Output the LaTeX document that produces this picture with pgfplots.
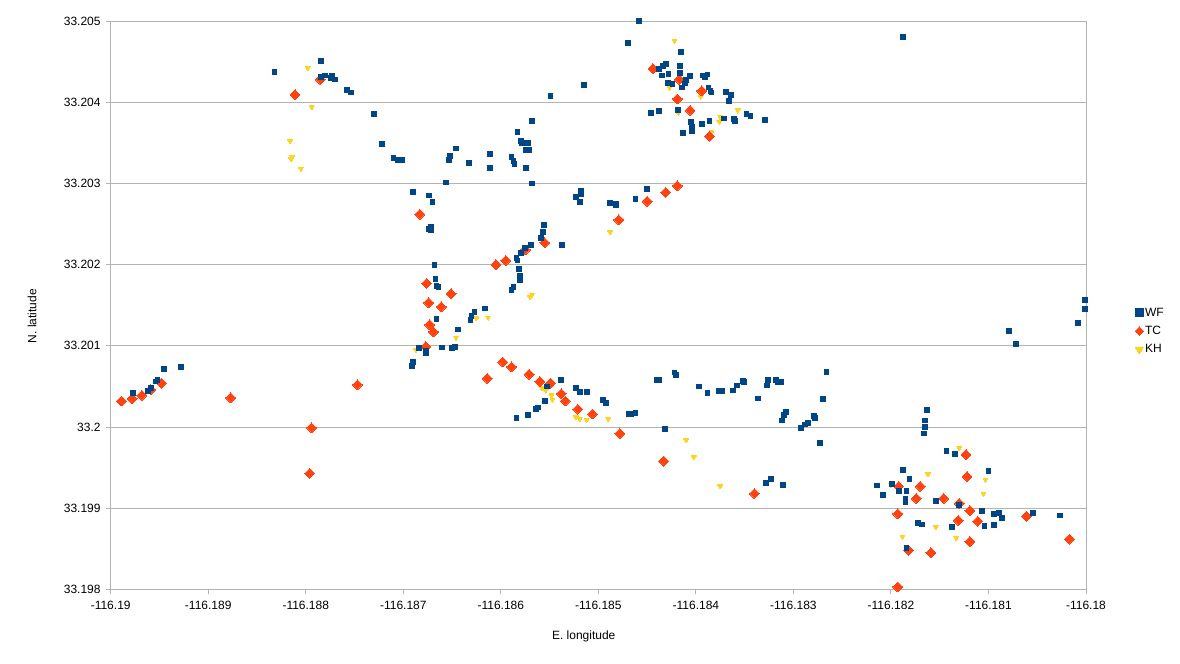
\documentclass[border=0pt]{standalone}
\usepackage{fontspec}
\setmainfont{Liberation Sans}
\usepackage{pgfplots}
\pgfplotsset{compat=1.18}
\definecolor{wfcol}{HTML}{004586}
\definecolor{tccol}{HTML}{FF420E}
\definecolor{khcol}{HTML}{FFD320}
\definecolor{gridcol}{HTML}{B3B3B3}
\newcommand{\lf}{\fontsize{12bp}{14bp}\selectfont}
\begin{document}
\begin{tikzpicture}
\path[use as bounding box] (-110.7bp,-74.6bp) rectangle ++(1180bp,664bp);
\begin{axis}[
  scale only axis, width=975.3bp, height=568.4bp,
  xmin=-116.19, xmax=-116.18, ymin=33.198, ymax=33.205,
  xtick={-116.19,-116.189,-116.188,-116.187,-116.186,-116.185,-116.184,-116.183,-116.182,-116.181,-116.18},
  xticklabels={-116.19,-116.189,-116.188,-116.187,-116.186,-116.185,-116.184,-116.183,-116.182,-116.181,-116.18},
  ytick={33.198,33.199,33.2,33.201,33.202,33.203,33.204,33.205},
  yticklabels={33.198,33.199,33.2,33.201,33.202,33.203,33.204,33.205},
  ymajorgrids, grid style={gridcol, line width=1bp},
  axis line style={gridcol, line width=1bp},
  tick style={gridcol, line width=1bp},
  tick align=outside, major tick length=5bp,
  xtick pos=bottom, ytick pos=left,
  minor tick num=0,
  tick label style={font=\lf, text=black},
  xticklabel style={inner sep=0pt, anchor=north, yshift=-7bp},
  yticklabel style={inner sep=0pt, anchor=east, xshift=-5bp},
  xlabel={E. longitude}, ylabel={N. latitude},
  label style={font=\lf},
  xlabel style={at={(axis description cs:0.485,-0.0827)}, anchor=center},
  ylabel style={at={(axis description cs:-0.0807,0.481)}, anchor=center, rotate=0},
  legend style={at={(axis description cs:1.0502,0.4546)}, anchor=west, draw=none, fill=none, font=\lf, row sep=5.5bp, inner sep=0pt, nodes={inner sep=1.5bp}},
  legend cell align=left,
  legend image code/.code={\draw[#1] plot coordinates {(0bp,0bp)};},
]
% KH
\addplot[forget plot, only marks, color=khcol, mark=triangle*, mark size=2.7bp, mark options={rotate=180, line width=0pt}] coordinates {
(-116.18798,33.20442) (-116.18794,33.20394) (-116.18816,33.20352) (-116.18814,33.20333)
(-116.18815,33.20330) (-116.18805,33.20318) (-116.18422,33.20476) (-116.18427,33.20418)
(-116.18395,33.20407) (-116.18393,33.20434) (-116.18375,33.20382) (-116.18376,33.20376)
(-116.18357,33.20390) (-116.18384,33.20363) (-116.18418,33.20387) (-116.18687,33.20095)
(-116.18488,33.20240) (-116.18570,33.20160) (-116.18568,33.20163) (-116.18625,33.20134)
(-116.18613,33.20135) (-116.18646,33.20110) (-116.18678,33.20095) (-116.18558,33.20048)
(-116.18554,33.20045) (-116.18548,33.20039) (-116.18547,33.20034) (-116.18523,33.20012)
(-116.18519,33.20010) (-116.18512,33.20009) (-116.18490,33.20010) (-116.18410,33.19984)
(-116.18402,33.19963) (-116.18375,33.19927) (-116.18130,33.19974) (-116.18162,33.19942)
(-116.18103,33.19935) (-116.18105,33.19918) (-116.18200,33.19929) (-116.18154,33.19877)
(-116.18133,33.19863) (-116.18188,33.19865)
};
% TC
\addplot[forget plot, only marks, color=tccol, mark=square*, mark size=3.5bp, mark options={rotate=45, line width=0pt}] coordinates {
(-116.18811,33.20409) (-116.18785,33.20428) (-116.18683,33.20262) (-116.18444,33.20441)
(-116.18417,33.20428) (-116.18394,33.20414) (-116.18419,33.20404) (-116.18406,33.20390)
(-116.18386,33.20358) (-116.18419,33.20297) (-116.18431,33.20289) (-116.18450,33.20278)
(-116.18989,33.20032) (-116.18978,33.20035) (-116.18968,33.20039) (-116.18959,33.20046)
(-116.18948,33.20054) (-116.18877,33.20036) (-116.18747,33.20052) (-116.18676,33.20177)
(-116.18674,33.20153) (-116.18673,33.20126) (-116.18677,33.20099) (-116.18794,33.19999)
(-116.18796,33.19943) (-116.18479,33.20255) (-116.18555,33.20227) (-116.18575,33.20218)
(-116.18595,33.20205) (-116.18605,33.20200) (-116.18651,33.20164) (-116.18661,33.20148)
(-116.18669,33.20117) (-116.18598,33.20080) (-116.18589,33.20074) (-116.18614,33.20060)
(-116.18571,33.20065) (-116.18560,33.20056) (-116.18549,33.20054) (-116.18538,33.20041)
(-116.18534,33.20032) (-116.18521,33.20022) (-116.18506,33.20016) (-116.18478,33.19992)
(-116.18433,33.19958) (-116.18340,33.19918) (-116.18123,33.19966) (-116.18122,33.19939)
(-116.18192,33.19927) (-116.18170,33.19927) (-116.18174,33.19912) (-116.18146,33.19912)
(-116.18130,33.19906) (-116.18119,33.19897) (-116.18193,33.19893) (-116.18131,33.19885)
(-116.18111,33.19884) (-116.18061,33.19890) (-116.18119,33.19859) (-116.18182,33.19848)
(-116.18159,33.19845) (-116.18017,33.19862) (-116.18193,33.19803)
};
% WF
\addplot[forget plot, only marks, color=wfcol, mark=square*, mark size=2.4bp, mark options={line width=0pt}] coordinates {
(-116.18832,33.20437) (-116.18784,33.20451) (-116.18784,33.20431) (-116.18780,33.20433)
(-116.18773,33.20433) (-116.18774,33.20430) (-116.18770,33.20428) (-116.18758,33.20415)
(-116.18754,33.20412) (-116.18730,33.20385) (-116.18722,33.20349) (-116.18710,33.20331)
(-116.18706,33.20329) (-116.18701,33.20329) (-116.18690,33.20289) (-116.18674,33.20285)
(-116.18458,33.20500) (-116.18470,33.20473) (-116.18415,33.20462) (-116.18515,33.20421)
(-116.18549,33.20408) (-116.18434,33.20445) (-116.18431,33.20447) (-116.18438,33.20441)
(-116.18435,33.20433) (-116.18428,33.20435) (-116.18416,33.20445) (-116.18416,33.20436)
(-116.18406,33.20432) (-116.18410,33.20427) (-116.18411,33.20423) (-116.18429,33.20424)
(-116.18424,33.20422) (-116.18414,33.20418) (-116.18393,33.20433) (-116.18391,33.20431)
(-116.18388,33.20434) (-116.18387,33.20418) (-116.18385,33.20414) (-116.18384,33.20412)
(-116.18369,33.20413) (-116.18364,33.20409) (-116.18366,33.20401) (-116.18446,33.20387)
(-116.18438,33.20389) (-116.18418,33.20390) (-116.18405,33.20376) (-116.18394,33.20373)
(-116.18386,33.20377) (-116.18371,33.20380) (-116.18361,33.20379) (-116.18360,33.20377)
(-116.18348,33.20385) (-116.18344,33.20383) (-116.18404,33.20369) (-116.18404,33.20365)
(-116.18413,33.20362) (-116.18568,33.20377) (-116.18583,33.20363) (-116.18579,33.20352)
(-116.18578,33.20350) (-116.18572,33.20350) (-116.18574,33.20341) (-116.18571,33.20341)
(-116.18589,33.20333) (-116.18587,33.20328) (-116.18586,33.20324) (-116.18574,33.20319)
(-116.18568,33.20300) (-116.18611,33.20336) (-116.18611,33.20319) (-116.18633,33.20325)
(-116.18646,33.20343) (-116.18652,33.20334) (-116.18653,33.20329) (-116.18656,33.20301)
(-116.18670,33.20277) (-116.18518,33.20291) (-116.18518,33.20287) (-116.18523,33.20283)
(-116.18519,33.20277) (-116.18488,33.20276) (-116.18482,33.20275) (-116.18462,33.20281)
(-116.18450,33.20293) (-116.18188,33.20480) (-116.18329,33.20378)
(-116.18977,33.20042) (-116.18962,33.20044) (-116.18959,33.20048) (-116.18954,33.20056)
(-116.18952,33.20058) (-116.18945,33.20071) (-116.18928,33.20074) (-116.18691,33.20075)
(-116.18690,33.20080) (-116.18684,33.20097) (-116.18677,33.20094) (-116.18674,33.20244)
(-116.18672,33.20246) (-116.18672,33.20242) (-116.18668,33.20200) (-116.18667,33.20182)
(-116.18666,33.20174) (-116.18664,33.20172) (-116.18666,33.20133) (-116.18644,33.20120)
(-116.18627,33.20142) (-116.18630,33.20137) (-116.18631,33.20132) (-116.18616,33.20146)
(-116.18647,33.20099) (-116.18650,33.20097) (-116.18660,33.20098) (-116.18677,33.20091)
(-116.18556,33.20249) (-116.18557,33.20240) (-116.18559,33.20233) (-116.18569,33.20224)
(-116.18575,33.20220) (-116.18579,33.20214) (-116.18584,33.20208) (-116.18583,33.20205)
(-116.18581,33.20195) (-116.18580,33.20186) (-116.18580,33.20181) (-116.18587,33.20172)
(-116.18589,33.20169) (-116.18537,33.20224) (-116.18482,33.20273)
(-116.18553,33.20050) (-116.18538,33.20058) (-116.18523,33.20048) (-116.18519,33.20043)
(-116.18512,33.20043) (-116.18555,33.20032) (-116.18495,33.20033) (-116.18492,33.20030)
(-116.18440,33.20058) (-116.18438,33.20058) (-116.18422,33.20067) (-116.18420,33.20064)
(-116.18397,33.20050) (-116.18388,33.20042) (-116.18376,33.20044) (-116.18373,33.20044)
(-116.18362,33.20045) (-116.18358,33.20051) (-116.18352,33.20057) (-116.18351,33.20055)
(-116.18336,33.20035) (-116.18001,33.20156) (-116.18001,33.20145) (-116.18008,33.20128)
(-116.18079,33.20118) (-116.18072,33.20102) (-116.18266,33.20068) (-116.18326,33.20058)
(-116.18327,33.20051) (-116.18318,33.20058) (-116.18316,33.20055) (-116.18313,33.20055)
(-116.18270,33.20034) (-116.18584,33.20011) (-116.18572,33.20015) (-116.18564,33.20022)
(-116.18562,33.20024) (-116.18469,33.20016) (-116.18466,33.20016) (-116.18462,33.20017)
(-116.18432,33.19998) (-116.18312,33.20008) (-116.18310,33.20015) (-116.18308,33.20018)
(-116.18292,33.19999) (-116.18288,33.20003) (-116.18285,33.20005) (-116.18279,33.20014)
(-116.18278,33.20011) (-116.18273,33.19980) (-116.18328,33.19931) (-116.18323,33.19936)
(-116.18311,33.19929) (-116.18163,33.20021) (-116.18165,33.20008) (-116.18165,33.20000)
(-116.18166,33.19992) (-116.18143,33.19970) (-116.18134,33.19967) (-116.18188,33.19947)
(-116.18181,33.19936) (-116.18214,33.19928) (-116.18208,33.19916) (-116.18199,33.19930)
(-116.18192,33.19921) (-116.18184,33.19921) (-116.18185,33.19911) (-116.18185,33.19907)
(-116.18154,33.19909) (-116.18130,33.19904) (-116.18100,33.19946) (-116.18107,33.19897)
(-116.18094,33.19893) (-116.18089,33.19894) (-116.18086,33.19888) (-116.18104,33.19878)
(-116.18094,33.19879) (-116.18054,33.19894) (-116.18027,33.19891) (-116.18172,33.19882)
(-116.18168,33.19880) (-116.18137,33.19877) (-116.18184,33.19851)
};
\addlegendimage{only marks, color=wfcol, mark=square*, mark size=4bp, mark options={line width=0pt}}
\addlegendentry{WF}
\addlegendimage{only marks, color=tccol, mark=square*, mark size=2.95bp, mark options={rotate=45, line width=0pt}}
\addlegendentry{TC}
\addlegendimage{only marks, color=khcol, mark=triangle*, mark size=4.6bp, mark options={rotate=180, line width=0pt}}
\addlegendentry{KH}
\end{axis}
\end{tikzpicture}
\end{document}
